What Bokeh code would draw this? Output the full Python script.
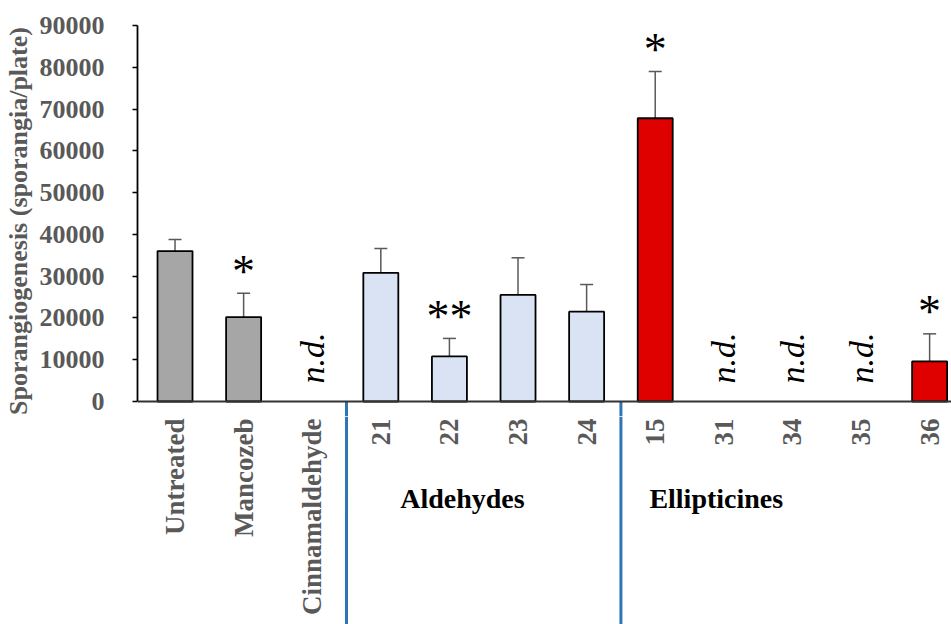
import math
from bokeh.plotting import figure
from bokeh.models import (Range1d, FixedTicker, NumeralTickFormatter, ColumnDataSource,
                          Whisker, TeeHead, Span)
from bokeh.layouts import column
from bokeh.core.properties import value
from bokeh.embed import file_html
from bokeh.resources import INLINE

# ---------------- data ----------------
categories = ["Untreated", "Mancozeb", "Cinnamaldehyde", "21", "22", "23", "24",
              "15", "31", "34", "35", "36"]
means = [36000, 20200, 0, 30800, 10800, 25500, 21500, 67800, 0, 0, 0, 9600]
errors = [2800, 5700, 0, 5800, 4300, 8900, 6500, 11200, 0, 0, 0, 6600]
not_detected = [False, False, True, False, False, False, False, False, True, True, True, False]
significance = ["", "*", "", "", "**", "", "", "*", "", "", "", "*"]
group_of = ["Control", "Control", "Control", "Aldehydes", "Aldehydes", "Aldehydes", "Aldehydes",
            "Ellipticines", "Ellipticines", "Ellipticines", "Ellipticines", "Ellipticines"]
group_names = ["Aldehydes", "Ellipticines"]
group_label_x = [4.19, 7.89]
group_dividers = [2.5, 6.5]
y_ticks = [0, 10000, 20000, 30000, 40000, 50000, 60000, 70000, 80000, 90000]

group_colors = {"Control": "#A6A6A6", "Aldehydes": "#DAE3F3", "Ellipticines": "#DF0000"}

FONT = "Liberation Serif"
GRAY = "#595959"

xpos = list(range(len(categories)))
bars = [(x, m, e, group_colors[g]) for x, m, e, g, nd in
        zip(xpos, means, errors, group_of, not_detected) if not nd]
bar_src = ColumnDataSource(dict(
    x=[b[0] for b in bars], top=[b[1] for b in bars],
    upper=[b[1] + b[2] for b in bars], color=[b[3] for b in bars]))

sig = [(x, m + e, s) for x, m, e, s in zip(xpos, means, errors, significance) if s]
sig_src = ColumnDataSource(dict(x=[s[0] for s in sig], y=[s[1] for s in sig],
                                t=[s[2] for s in sig]))

nd_x = [x for x, nd in zip(xpos, not_detected) if nd]
nd_src = ColumnDataSource(dict(x=nd_x, y=[0] * len(nd_x), t=["n.d."] * len(nd_x)))

x_range = Range1d(-0.547, 11.319)
Y_LOW = -3590

# ---------------- main plot ----------------
p1 = figure(width=951, height=416, x_range=x_range, y_range=Range1d(Y_LOW, 90000),
            x_axis_type=None, output_backend="svg", toolbar_location=None,
            min_border_left=137, min_border_right=0, min_border_top=25, min_border_bottom=0)
p1.outline_line_color = None
p1.grid.visible = False
p1.background_fill_color = "white"

p1.vbar(x="x", top="top", bottom=0, width=0.51, source=bar_src,
        fill_color="color", line_color="black", line_width=1.8)

wh = Whisker(base="x", upper="upper", lower="top", source=bar_src,
             line_color=GRAY, line_width=1.5,
             upper_head=TeeHead(size=13, line_color=GRAY, line_width=1.5),
             lower_head=None)
p1.add_layout(wh)

p1.add_layout(Span(location=0, dimension="width", line_color="#333333", line_width=2.2))

p1.segment(x0=group_dividers, x1=group_dividers, y0=[0] * len(group_dividers),
           y1=[Y_LOW] * len(group_dividers), line_color="#2E75B6", line_width=3)

p1.text(x="x", y="y", text="t", source=sig_src, text_font=value(FONT),
        text_font_size="46px", text_align="center", text_baseline="alphabetic",
        y_offset=-22, text_color="black")

p1.text(x="x", y="y", text="t", source=nd_src, text_font=value(FONT),
        text_font_style="italic", text_font_size="34px", text_align="left",
        text_baseline="middle", angle=math.pi / 2, y_offset=-18, text_color="black")

ya = p1.yaxis[0]
ya.bounds = (0, 90000)
ya.ticker = FixedTicker(ticks=y_ticks)
ya.formatter = NumeralTickFormatter(format="0")
ya.minor_tick_line_color = None
ya.major_tick_in = 0
ya.major_tick_out = 5
ya.major_tick_line_color = "black"
ya.major_tick_line_width = 1.5
ya.axis_line_color = "black"
ya.axis_line_width = 1.8
ya.major_label_text_font = FONT
ya.major_label_text_font_size = "26px"
ya.major_label_text_font_style = "bold"
ya.major_label_text_color = GRAY
ya.major_label_standoff = 28
ya.axis_label = "Sporangiogenesis (sporangia/plate)"
ya.axis_label_text_font = FONT
ya.axis_label_text_font_size = "26px"
ya.axis_label_text_font_style = "bold"
ya.axis_label_text_color = GRAY
ya.axis_label_standoff = 4

# ---------------- category / group label strip ----------------
p2 = figure(width=951, height=208, x_range=x_range, y_range=Range1d(-208, 0),
            x_axis_type=None, y_axis_type=None, output_backend="svg", toolbar_location=None,
            min_border_left=137, min_border_right=0, min_border_top=0, min_border_bottom=0)
p2.outline_line_color = None
p2.grid.visible = False

cat_src = ColumnDataSource(dict(x=xpos, y=[0] * len(xpos), t=categories))
p2.text(x="x", y="y", text="t", source=cat_src, text_font=value(FONT),
        text_font_style="bold", text_font_size="27px", text_color=GRAY,
        text_align="right", text_baseline="middle", angle=math.pi / 2, y_offset=2)

p2.segment(x0=group_dividers, x1=group_dividers, y0=[0] * len(group_dividers),
           y1=[-208] * len(group_dividers), line_color="#2E75B6", line_width=3)

grp_src = ColumnDataSource(dict(x=group_label_x, y=[0] * len(group_names), t=group_names))
p2.text(x="x", y="y", text="t", source=grp_src, text_font=value(FONT),
        text_font_style="bold", text_font_size="28px", text_color="black",
        text_align="center", text_baseline="middle", y_offset=82)

layout = column(p1, p2, spacing=0)
open("out.html", "w").write(file_html(layout, INLINE))
